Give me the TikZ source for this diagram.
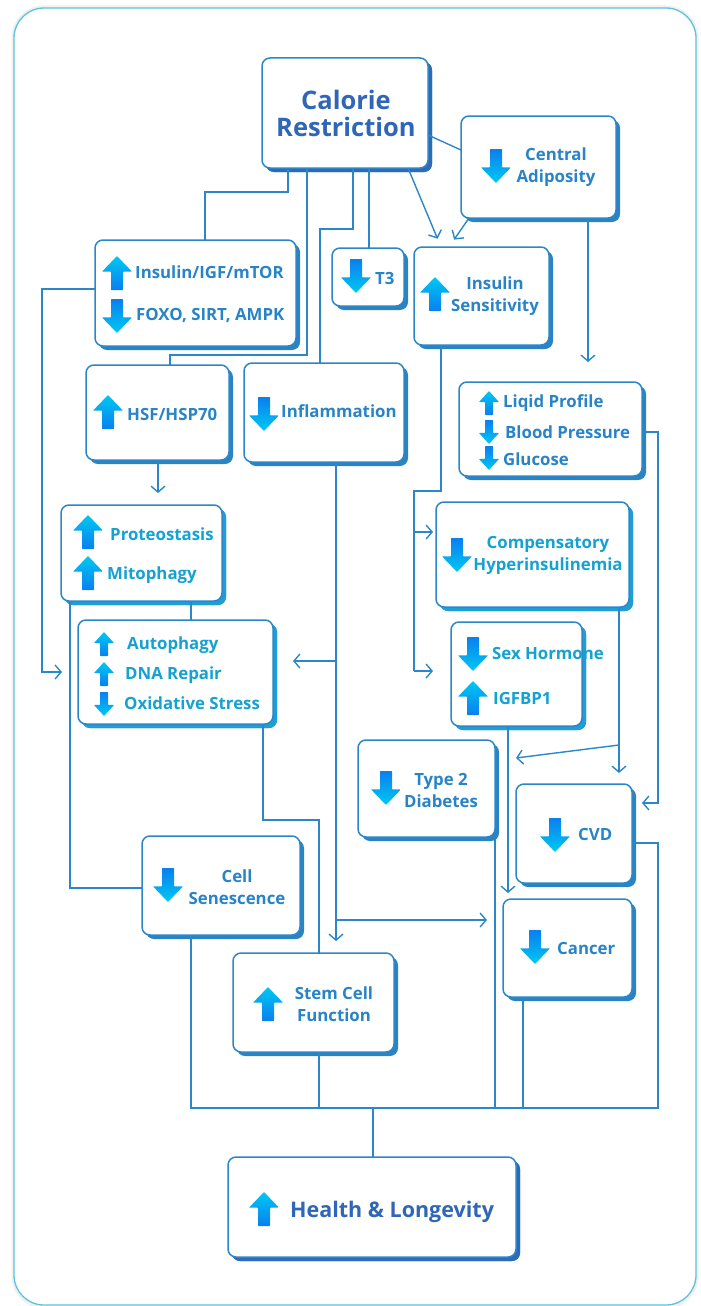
\documentclass[tikz,border=0pt]{standalone}
\usepackage{fontspec}
\setmainfont{Open Sans}
\usetikzlibrary{arrows.meta,shadows,calc}
\definecolor{lcol}{HTML}{2B87C8}
\definecolor{shc}{HTML}{2A84C4}
\definecolor{shd}{HTML}{2F6AB8}
\definecolor{shcy}{HTML}{1E9ED2}
\definecolor{frcol}{HTML}{5CC3DD}
\definecolor{tdark}{HTML}{3066B8}
\definecolor{tblue}{HTML}{2884C6}
\definecolor{tcyan}{HTML}{14A2D2}
\definecolor{icy}{HTML}{00C8F2}
\definecolor{iblue}{HTML}{0A7FEF}
\tikzset{
  box/.style={draw=lcol, fill=white, line width=1.5pt, rounded corners=8pt,
    inner sep=0pt, outer sep=0pt,
    general shadow={fill=shc, shadow xshift=4pt, shadow yshift=-4pt}},
  boxd/.style={box, general shadow={fill=shd, shadow xshift=4pt, shadow yshift=-4pt}},
  boxc/.style={box, general shadow={fill=shcy, shadow xshift=4pt, shadow yshift=-4pt}},
  ln/.style={draw=lcol, line width=1.4pt},
  arr/.style={ln, -{Straight Barb[length=6pt,width=14pt,line width=1.4pt]}},
  tx/.style={font=\bfseries\fontsize{16.8}{22}\selectfont, inner sep=0pt, text=tblue, align=center},
  tc/.style={tx, text=tcyan},
  tt/.style={font=\bfseries\fontsize{25.5}{27}\selectfont, inner sep=0pt, text=tdark, align=center},
}
\newcommand\bx[6][box]{\node[#1, minimum width={#4-#2}, minimum height={#5-#3}] (#6) at ({(#2+#4)/2},{(#3+#5)/2}) {};}
\newcommand\ArrUp[4]{%
  \shade[top color=icy, bottom color=iblue, rounded corners=0.6pt]
   ({#1},{#2-#4/2}) -- ({#1+#3/2},{#2-#4/2+0.46*#4}) -- ({#1+0.2*#3},{#2-#4/2+0.46*#4})
   -- ({#1+0.2*#3},{#2+#4/2}) -- ({#1-0.2*#3},{#2+#4/2}) -- ({#1-0.2*#3},{#2-#4/2+0.46*#4})
   -- ({#1-#3/2},{#2-#4/2+0.46*#4}) -- cycle;}
\newcommand\ArrDn[4]{%
  \shade[top color=iblue, bottom color=icy, rounded corners=0.6pt]
   ({#1},{#2+#4/2}) -- ({#1+#3/2},{#2+#4/2-0.46*#4}) -- ({#1+0.2*#3},{#2+#4/2-0.46*#4})
   -- ({#1+0.2*#3},{#2-#4/2}) -- ({#1-0.2*#3},{#2-#4/2}) -- ({#1-0.2*#3},{#2+#4/2-0.46*#4})
   -- ({#1-#3/2},{#2+#4/2-0.46*#4}) -- cycle;}
\begin{document}
\begin{tikzpicture}[x=1pt,y=-1pt]
\useasboundingbox (0,0) rectangle (701,1306);
\fill[white] (0,0) rectangle (701,1306);
\draw[black!6, line width=3pt, rounded corners=31pt] (13,7) rectangle (697,1307);
\draw[frcol, line width=1.3pt, rounded corners=30pt, fill=white] (14,8) rectangle (696,1305);

% boxes
\bx[boxd]{262}{58}{428}{168}{cr}
\bx{461}{116}{616}{218}{ca}
\bx{95}{240}{296}{346}{igf}
\bx{332}{248}{404}{306}{t3}
\bx{414}{247}{549}{345}{ins}
\bx{86}{365}{229}{460}{hsf}
\bx{244}{363}{404}{462}{infl}
\bx{459}{382}{642}{476}{lip}
\bx[boxc]{61}{505}{222}{601}{prot}
\bx[boxc]{436}{502}{629}{607}{comp}
\bx[boxc]{78}{620}{273}{724}{auto}
\bx[boxc]{451}{622}{582}{726}{sex}
\bx{358}{740}{495}{837}{t2d}
\bx{516}{784}{632}{883}{cvd}
\bx{142}{836}{300}{935}{sen}
\bx{503}{899}{632}{997}{can}
\bx{233}{953}{394}{1052}{stem}
\bx[boxd]{228}{1157}{516}{1257}{hl}

% icons
\ArrDn{496}{166}{30}{34}
\ArrUp{117}{273}{30}{34}
\ArrDn{117}{316}{30}{34}
\ArrDn{356}{276}{30}{34}
\ArrUp{435}{294}{30}{34}
\ArrUp{108}{412}{30}{34}
\ArrDn{264}{414}{30}{34}
\ArrUp{489}{403}{20}{24}
\ArrDn{489}{432}{20}{24}
\ArrDn{489}{458}{20}{24}
\ArrUp{88}{532}{30}{34}
\ArrUp{88}{573}{30}{34}
\ArrDn{457}{555}{30}{34}
\ArrUp{104}{644}{20}{24}
\ArrUp{104}{674}{20}{24}
\ArrDn{104}{704}{20}{24}
\ArrDn{473}{654}{30}{34}
\ArrUp{473}{698}{30}{34}
\ArrDn{386}{788}{30}{34}
\ArrDn{555}{835}{30}{34}
\ArrDn{168}{885}{30}{34}
\ArrDn{535}{947}{30}{34}
\ArrUp{268}{1004}{30}{34}
\ArrUp{264}{1209}{30}{34}

% texts
\node[tt] (tcr) at (346,113) {Calorie\\Restriction};
\node[tx] (tca) at (556,167) {Central\\Adiposity};
\node[tx, anchor=west] (tigf1) at (135,272) {Insulin/IGF/mTOR};
\node[tx, anchor=west] (tigf2) at (136,315) {FOXO, SIRT, AMPK};
\node[tx, anchor=west] (tt3) at (375,278) {T3};
\node[tx] (tins) at (495,296) {Insulin\\Sensitivity};
\node[tx, anchor=west] (thsf) at (127,414) {HSF/HSP70};
\node[tx, anchor=west] (tinfl) at (281,411) {Inflammation};
\node[tx, anchor=west] (tlip1) at (503,403) {Liqid Profile};
\node[tx, anchor=west] (tlip2) at (505,432) {Blood Pressure};
\node[tx, anchor=west] (tlip3) at (503,459) {Glucose};
\node[tc, anchor=west] (tprot1) at (110,534) {Proteostasis};
\node[tc, anchor=west] (tprot2) at (107,575) {Mitophagy};
\node[tc] (tcomp) at (548,555) {Compensatory\\Hyperinsulinemia};
\node[tc, anchor=west] (tauto1) at (127,645) {Autophagy};
\node[tc, anchor=west] (tauto2) at (125,675) {DNA Repair};
\node[tc, anchor=west] (tauto3) at (124,703) {Oxidative Stress};
\node[tc, anchor=west] (tsex1) at (492,653) {Sex Hormone};
\node[tc, anchor=west] (tsex2) at (493,698) {IGFBP1};
\node[tx] (tt2d) at (441,790) {Type 2\\Diabetes};
\node[tx, anchor=west] (tcvd) at (578,834) {CVD};
\node[tx] (tsen) at (237,887) {Cell\\Senescence};
\node[tx, anchor=west] (tcan) at (557,948) {Cancer};
\node[tx] (tstem) at (334,1004) {Stem Cell\\Function};
\node[tt, font=\bfseries\fontsize{21.5}{24}\selectfont, anchor=west] (thl) at (290,1212) {Health \& Longevity};

% connectors
\draw[ln] (cr.south -| 288,0) |- (205,192) -- (igf.north -| 205,0);
\draw[ln] (cr.south -| 307,0) |- (170,355) -- (hsf.north -| 170,0);
\draw[ln] (cr.south -| 353,0) |- (320,229) -- (infl.north -| 320,0);
\draw[ln] (cr.south -| 369,0) -- (t3.north -| 369,0);
\draw[arr, shorten >=9pt] (cr.south -| 408,0) -- (ins.north -| 441,0);
\draw[ln] (cr.east |- 0,135) -- (ca.west |- 0,150);
\draw[arr, shorten >=9pt] (ca.south -| 469,0) -- (ins.north -| 449,0);
\draw[arr, shorten >=20pt] (ca.south -| 588,0) -- (lip.north -| 588,0);
\draw[arr, shorten >=16pt] (igf.west |- 0,289) -| (42,672) -- (auto.west |- 0,672);
\draw[arr, shorten >=12pt] (hsf.south -| 158,0) -- (prot.north -| 158,0);
\draw[ln] (prot.south -| 70,0) |- (sen.west |- 0,888);
\draw[ln] (prot.south -| 191,0) -- (auto.north -| 191,0);
\draw[ln] (auto.south -| 263,0) |- (319,820) -- (stem.north -| 319,0);
\draw[arr, shorten >=12pt] (infl.south -| 336,0) -- (stem.north -| 336,0);
\coordinate (j1) at (336,661);
\coordinate (j2) at (336,920);
\draw[arr, shorten >=20pt] (j1) -- (auto.east |- j1);
\draw[arr, shorten >=16pt] (j2) -- (can.west |- j2);
\draw[ln] (ins.south -| 441,0) |- (414,491) -- (414,671);
\coordinate (j3) at (414,532);
\coordinate (j4) at (414,671);
\draw[arr, shorten >=3pt] (j3) -- (comp.west |- j3);
\draw[arr, shorten >=18pt] (j4) -- (sex.west |- j4);
\draw[arr, shorten >=10pt] (lip.east |- 0,432) -| (658,803) -- (cvd.east |- 0,803);
\draw[arr, shorten >=11pt] (comp.south -| 619,0) -- (cvd.north -| 619,0);
\coordinate (j5) at (619,745);
\coordinate (t2dtip) at (516,758);
\draw[arr] (j5) -- (t2dtip);
\draw[arr, shorten >=6pt] (sex.south -| 508,0) -- (can.north -| 508,0);
\coordinate (busL) at (191,1108);
\coordinate (busR) at (658,1108);
\coordinate (busM) at (373,1108);
\draw[ln] (sen.south -| busL) -- (busL) -- (busR) |- (cvd.east |- 0,843);
\draw[ln] (stem.south -| 319,0) -- (319,1108);
\draw[ln] (t2d.south -| 495,0) -- (495,1108);
\draw[ln] (can.south -| 523,0) -- (523,1108);
\draw[ln] (busM) -- (hl.north -| busM);
\end{tikzpicture}
\end{document}
